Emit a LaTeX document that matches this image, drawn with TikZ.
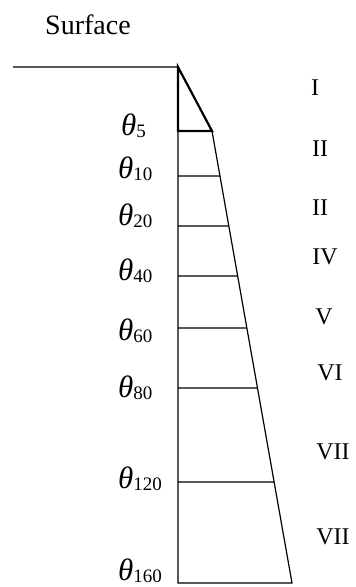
\documentclass[tikz,border=0pt]{standalone}
\usepackage{fontspec}
\setmainfont{Liberation Serif}
\usetikzlibrary{calc}
\newcommand{\thlab}[1]{{\fontsize{31}{34}\selectfont\itshape θ}\raisebox{-0.22em}{\fontsize{19}{21}\selectfont #1}}
\begin{document}
\begin{tikzpicture}[x=1pt,y=-1pt,
  thin line/.style={line width=1.2pt, black},
  thick line/.style={line width=2.2pt, black, line join=miter},
  numeral/.style={font=\fontsize{24}{28}\selectfont, inner sep=0pt},
  depth/.style={inner sep=0pt, anchor=base west}]
\useasboundingbox (0,0) rectangle (356,587);
% main points
\coordinate (sl) at (13,67);
\coordinate (apex) at (178,67);
\coordinate (c5) at (212,131);
\coordinate (l5) at (178,131);
\coordinate (bot) at (292,583);
\coordinate (lbot) at (178,583);
% surface
\node[font=\fontsize{28}{32}\selectfont, inner sep=0pt, anchor=base] (surf) at (88,34) {Surface};
\draw[line width=1.8pt, black!65] (sl) -- (apex);
% vertical axis and slanted line
\draw[thin line] (l5) -- (lbot) -- (bot) -- (c5);
% triangle
\draw[thick line] (apex) -- (l5) -- (c5) -- cycle;
% horizontal levels
\foreach \n/\y in {10/176,20/226,40/276,60/328,80/388,120/482}{
  \coordinate (l\n) at (178,\y);
  \coordinate (r\n) at ($(c5)!{(\y-131)/452}!(bot)$);
  \draw[thin line] (l\n) -- (r\n);
}
% depth labels
\node[depth] (t5) at (121,135) {\thlab{5}};
\node[depth] (t10) at (118,178) {\thlab{10}};
\node[depth] (t20) at (118,225) {\thlab{20}};
\node[depth] (t40) at (118,280) {\thlab{40}};
\node[depth] (t60) at (118,340) {\thlab{60}};
\node[depth] (t80) at (118,397) {\thlab{80}};
\node[depth] (t120) at (118,488) {\thlab{120}};
\node[depth] (t160) at (118,580) {\thlab{160}};
% zone numerals
\node[numeral] (z1) at (315,88) {I};
\node[numeral] (z2) at (320,149) {II};
\node[numeral] (z3) at (320,208) {II};
\node[numeral] (z4) at (325,257) {IV};
\node[numeral] (z5) at (324,317) {V};
\node[numeral] (z6) at (330,373) {VI};
\node[numeral] (z7) at (333,452) {VII};
\node[numeral] (z8) at (333,537) {VII};
\end{tikzpicture}
\end{document}
